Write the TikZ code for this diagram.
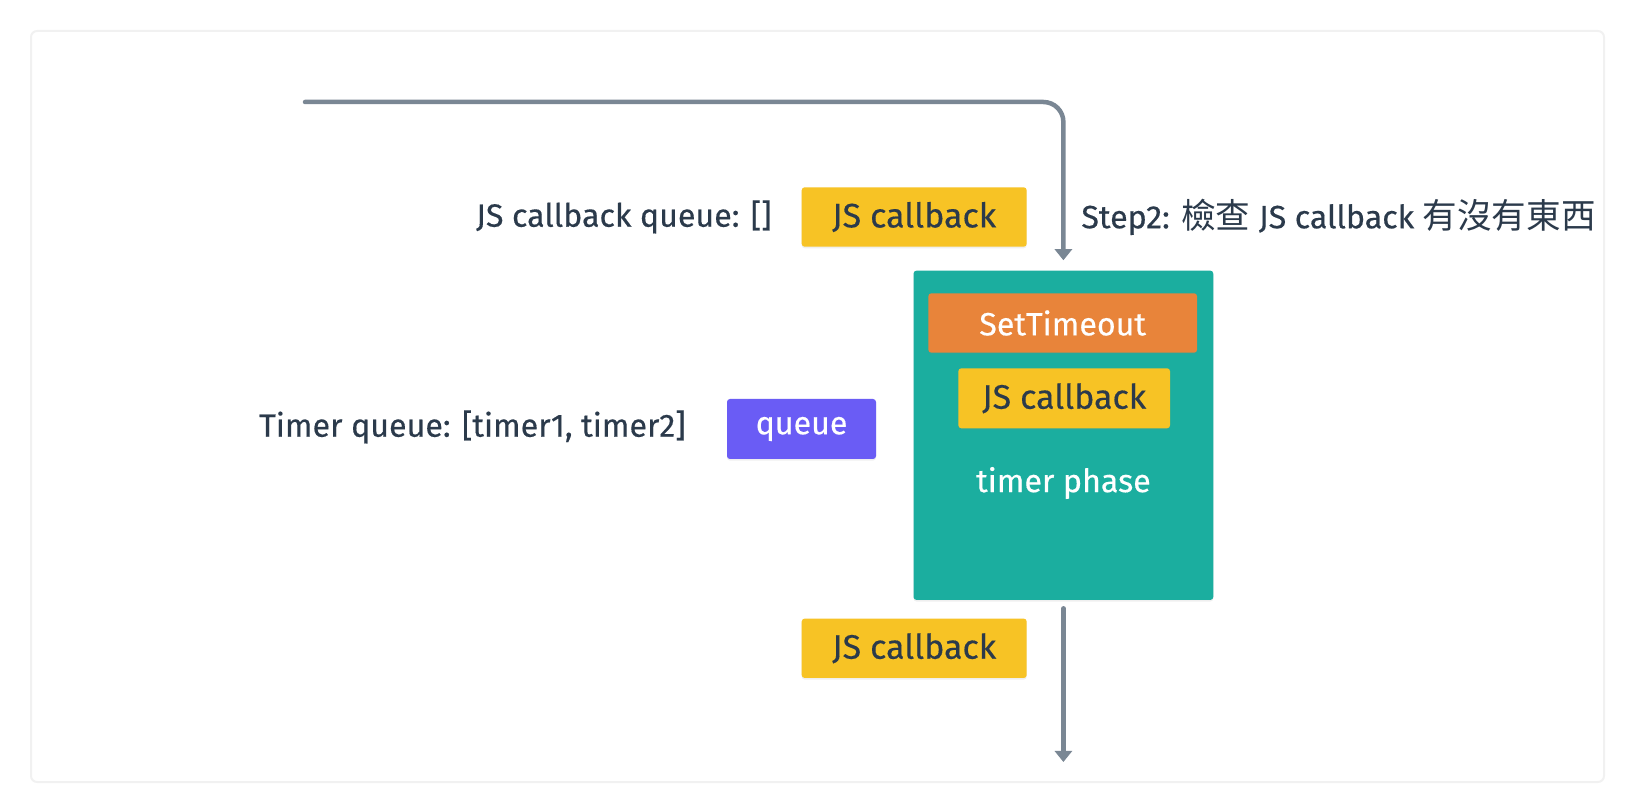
\documentclass[tikz,border=0pt]{standalone}
\usepackage{fontspec}
\setmainfont{Fira Sans}[FakeBold=0.35]
\newfontfamily\cjk{Noto Sans CJK TC}
\usetikzlibrary{arrows.meta,shadows}
\definecolor{cyellow}{HTML}{F7C325}
\definecolor{corange}{HTML}{E8843A}
\definecolor{cteal}{HTML}{1BAE9F}
\definecolor{cindigo}{HTML}{6A5CF5}
\definecolor{ctext}{HTML}{2B3A4B}
\definecolor{cline}{HTML}{7A8794}
\definecolor{cframe}{HTML}{F1F1F1}
\newcommand{\lblfont}{\fontsize{16.1}{19}\selectfont\addfontfeatures{FakeBold=0.35}}
\newcommand{\jsfont}{\fontsize{17}{20}\selectfont\addfontfeatures{FakeBold=0.35}}
\newcommand{\zh}[1]{{\cjk\fontsize{17.3}{20}\selectfont #1}}
\tikzset{
  txt/.style={font=\lblfont, text=ctext, inner sep=0pt},
  boxbase/.style={rectangle, rounded corners=1.5pt, inner sep=0pt,
    font=\lblfont,
    drop shadow={opacity=0.12, shadow xshift=0pt, shadow yshift=-0.8pt}},
  ybox/.style={boxbase, font=\jsfont, fill=cyellow, text=ctext, minimum width=112.5pt, minimum height=29.7pt},
  conn/.style={draw=cline, line width=2.25pt, line cap=round,
    -{Triangle[width=8.5pt, length=5.5pt]}},
}
\begin{document}
\begin{tikzpicture}[x=0.5pt,y=-0.5pt]
\useasboundingbox (0,0) rectangle (1635,812);
\draw[cframe, line width=1pt, rounded corners=3pt, fill=white] (31,31) rectangle (1604,782);
% teal phase box
\node[boxbase, fill=cteal, minimum width=149.9pt, minimum height=164.65pt] (teal) at (1063.4,435.3) {};
\node[boxbase, fill=corange, text=white, minimum width=134.35pt, minimum height=29.7pt] (st) at (1062.7,323) {SetTimeout};
\node[ybox, minimum width=105.85pt, minimum height=30pt] (jsin) at (1064.2,398.3) {JS callback};
\node[txt, text=white] (phase) at (1063.4,483) {timer phase};
% other boxes
\node[ybox] (jstop) at (914.2,217) {JS callback};
\node[ybox] (jsbot) at (914.2,648.3) {JS callback};
\node[boxbase, fill=cindigo, text=white, minimum width=74.5pt, minimum height=30pt] (queue) at (801.5,429) {queue};
% labels
\node[txt, anchor=east] (jsq) at (772,217) {JS callback queue: []};
\node[txt, anchor=east] (tq) at (686,427) {Timer queue: [timer1, timer2]};
\node[txt, anchor=west] (step) at (1081,217) {Step2: \zh{檢查} JS callback \zh{有沒有東西}};
% connectors
\coordinate (start) at (305,102);
\coordinate (finish) at (1063.4,762);
\draw[conn, rounded corners=10pt, shorten >=5pt] (start) -| (teal.north);
\draw[conn, shorten <=4pt] (teal.south) -- (finish);
\end{tikzpicture}
\end{document}
